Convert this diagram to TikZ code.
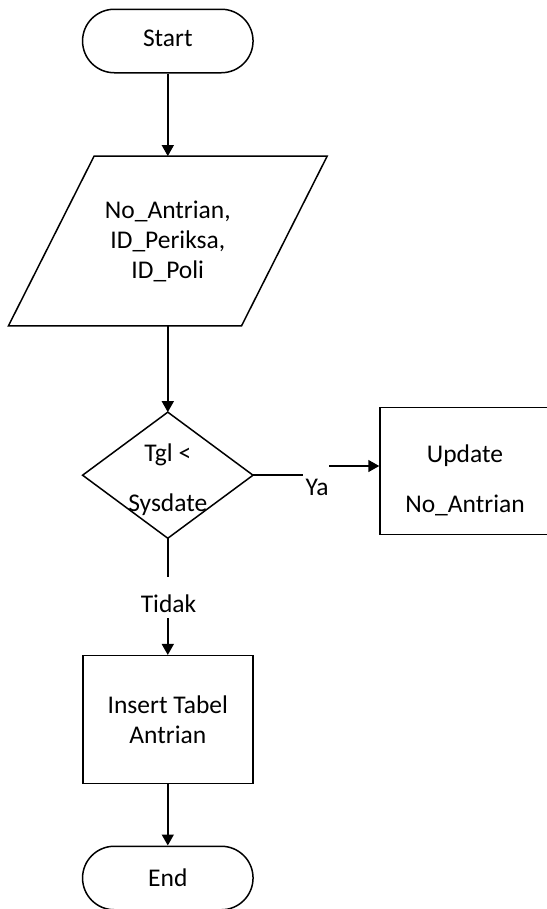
\documentclass[tikz,border=0pt]{standalone}
\usepackage{fontspec}
\setmainfont{Carlito}
\usetikzlibrary{arrows.meta,shapes.misc,calc}
\begin{document}
\begin{tikzpicture}[x=1bp,y=-1bp,
  every node/.style={font=\fontsize{25.5bp}{30bp}\selectfont, inner sep=0pt},
  every label/.style={align=center, inner sep=0pt},
  terminal/.style={rounded rectangle, draw, line width=1.5bp, minimum width=170.5bp, minimum height=63.5bp},
  procbox/.style={rectangle, draw, line width=1.5bp, minimum width=170bp, minimum height=127bp, align=center},
  frame/.style={rectangle, align=center},
  flow/.style={line width=1.5bp, -{Triangle[length=11bp,width=12bp]}},
  plain/.style={line width=1.5bp}]
\fill[white] (0,0) rectangle (547,909);
\useasboundingbox (0,0) rectangle (547,909);

\node[terminal, label={[name=starttext, yshift=3bp]center:Start}] (start) at (167.8,41) {};

\node[frame, minimum width=232.7bp, minimum height=169.4bp] (inp) at (167.8,241) {No\_Antrian,\\ID\_Periksa,\\ID\_Poli};
\draw[plain] ($(inp.north west)+(42.85,0)$) -- ($(inp.north east)+(42.85,0)$) -- ($(inp.south east)-(42.85,0)$) -- ($(inp.south west)-(42.85,0)$) -- cycle;

\node[frame, minimum width=170bp, minimum height=125.7bp, label={[name=dectext, yshift=-4.5bp]center:Tgl <\\[20bp]Sysdate}] (dec) at (167.8,475.2) {};
\draw[plain] (dec.north) -- (dec.east) -- (dec.south) -- (dec.west) -- cycle;

\node[procbox, minimum height=126.6bp, label={[name=updtext, yshift=-9bp]center:Update\\[20bp]No\_Antrian}] (upd) at (465,471) {};
\node[procbox, minimum height=127.6bp] (ins) at (167.8,719.5) {Insert Tabel\\Antrian};
\node[terminal] (end) at (167.8,878) {End};

\draw[flow] (start.south) -- (inp.north);
\draw[flow] (inp.south) -- (dec.north);

\coordinate (ya1) at (303.3,475.2);
\coordinate (ya2) at (329.3,466);
\draw[plain] (dec.east) -- (ya1);
\node (ya) at (317.2,487.7) {Ya};
\draw[flow] (ya2) -- (ya2 -| upd.west);

\coordinate (td1) at (167.8,576.7);
\coordinate (td2) at (167.8,618.3);
\draw[plain] (dec.south) -- (td1);
\node (tidak) at (168.5,603.4) {Tidak};
\draw[flow] (td2) -- (ins.north);

\draw[flow] (ins.south) -- (end.north);
\end{tikzpicture}
\end{document}
